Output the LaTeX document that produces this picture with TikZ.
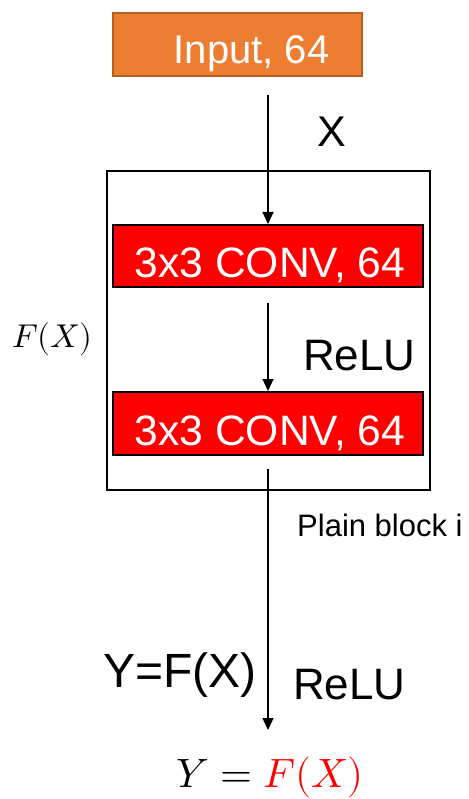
\documentclass[tikz,border=0pt]{standalone}
\usepackage{fontspec}
\usepackage{unicode-math}
\setmainfont{Liberation Sans}
\setmathfont{Latin Modern Math}
\usetikzlibrary{arrows.meta}
\definecolor{inorange}{HTML}{ED7D31}
\definecolor{inborder}{HTML}{B5601F}
\tikzset{
  conn/.style={line width=1.3pt,-{Triangle[width=11pt,length=12pt]}},
  convbox/.style={draw=black,line width=2pt,fill=red,text=white,minimum width=310pt,
    inner ysep=0pt,text depth=10pt,font=\fontsize{42.6}{46}\selectfont},
  inbox/.style={draw=inborder,line width=2pt,fill=inorange,text=white,minimum width=249pt,
    inner ysep=0pt,text height=51pt,text depth=12pt,font=\fontsize{40}{44}\selectfont},
  lbl/.style={anchor=base west,inner sep=0pt,font=\fontsize{44}{48}\selectfont},
}
\begin{document}
\begin{tikzpicture}[x=1pt,y=-1pt]
\useasboundingbox (0,0) rectangle (468,799);
\node[inbox] (input) at (237.5,44.5) {\hspace*{28pt}Input, 64};
\draw[line width=1.3pt] (107,171) rectangle (430,490);
\node[convbox,text height=52pt] (conv1) at (268,256) {\hspace*{4pt}3x3 CONV, 64};
\node[convbox,text height=53pt] (conv2) at (268,423.5) {\hspace*{4pt}3x3 CONV, 64};
\coordinate (a1) at (268,95);
\coordinate (a2) at (268,303);
\coordinate (a3) at (268,469);
\coordinate (a4) at (268,730);
\draw[conn] (a1) -- (conv1.north);
\draw[conn] (a2) -- (conv2.north);
\draw[conn] (a3) -- (a4);
\node[lbl,font=\fontsize{43}{47}\selectfont] (x) at (317,147) {X};
\node[lbl] (relu1) at (303,370) {ReLU};
\node[anchor=base west,inner sep=0pt,font=\fontsize{33}{37}\selectfont] (fx) at (12,347) {$F(X)$};
\node[anchor=base west,inner sep=0pt,font=\fontsize{31}{34}\selectfont] (plain) at (297,536) {Plain block i};
\node[lbl,font=\fontsize{48}{52}\selectfont] (yfx) at (103,687) {Y=F(X)};
\node[lbl] (relu2) at (293,699) {ReLU};
\node[anchor=base,inner sep=0pt,font=\fontsize{41}{45}\selectfont] (eq) at (270,787) {$Y = {\color{red}F(X)}$};
\end{tikzpicture}
\end{document}
